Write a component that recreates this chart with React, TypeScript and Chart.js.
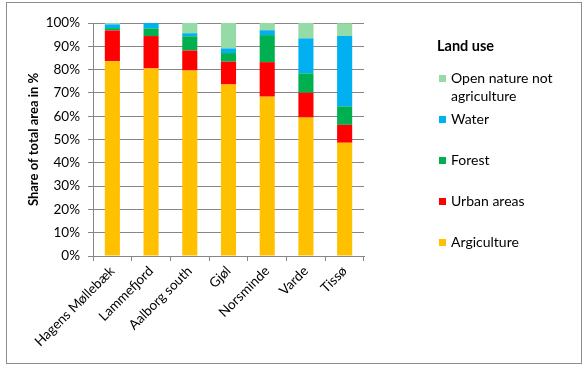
import React, { useEffect, useRef } from "react";
import { Chart, registerables } from "chart.js";

Chart.register(...registerables);

const categories = ["Hagens Møllebæk", "Lammefjord", "Aalborg south", "Gjøl", "Norsminde", "Varde", "Tissø"];
const agriculture = [83.6, 80.5, 79.6, 73.6, 68.4, 59.4, 48.6];
const urban = [13.2, 13.9, 8.6, 9.8, 14.8, 10.7, 7.7];
const forest = [1.0, 3.3, 6.1, 3.7, 11.6, 8.3, 7.9];
const water = [1.6, 2.3, 1.3, 2.0, 2.1, 15.0, 30.2];
const openNature = [0.6, 0, 4.4, 10.9, 3.1, 6.6, 5.5];
const yTickValues = [0, 10, 20, 30, 40, 50, 60, 70, 80, 90, 100];
const seriesLabels = ["Argiculture", "Urban areas", "Forest", "Water", "Open nature not agriculture"];
const legendTitle = "Land use";
const yTitle = "Share of total area in %";

const FONT = "Lato, 'Liberation Sans', sans-serif";

const legendPlugin = {
  id: "customLegend",
  afterDraw(chart: any) {
    const ctx = chart.ctx;
    ctx.save();
    // outer frame
    ctx.strokeStyle = "#8c8c8c";
    ctx.lineWidth = 1;
    ctx.strokeRect(6.5, 2.5, 575, 361);
    // title
    ctx.fillStyle = "#000";
    ctx.textBaseline = "middle";
    ctx.textAlign = "left";
    ctx.font = `bold 14.5px ${FONT}`;
    ctx.fillText(legendTitle, 437, 46);
    ctx.font = `14px ${FONT}`;
    const ds = chart.data.datasets.slice().reverse();
    let y = 78;
    const maxW = 122;
    ds.forEach((d: any) => {
      ctx.fillStyle = d.backgroundColor;
      ctx.fillRect(439, Math.round(y) - 3, 7, 7);
      ctx.fillStyle = "#000";
      const words = String(d.label).split(" ");
      const lines: string[] = [];
      let cur = "";
      words.forEach((w) => {
        const t = cur ? cur + " " + w : w;
        if (ctx.measureText(t).width > maxW && cur) {
          lines.push(cur);
          cur = w;
        } else cur = t;
      });
      if (cur) lines.push(cur);
      lines.forEach((ln, i) => ctx.fillText(ln, 451, y + i * 18.3));
      y += 41;
    });
    ctx.restore();
  },
};

export default function App() {
  const ref = useRef<HTMLCanvasElement>(null);
  useEffect(() => {
    if (!ref.current) return;
    const colors = ["#FFC000", "#FF0000", "#00B050", "#00B0F0", "#94DBA6"];
    const values = [agriculture, urban, forest, water, openNature];
    const chart = new Chart(ref.current, {
      type: "bar",
      data: {
        labels: categories,
        datasets: values.map((v, i) => ({
          label: seriesLabels[i],
          data: v,
          backgroundColor: colors[i],
          borderWidth: 0,
          barPercentage: 0.39,
          categoryPercentage: 1,
        })),
      },
      options: {
        responsive: false,
        animation: false,
        layout: { padding: { left: 6, top: 23, right: 224, bottom: 0 } },
        plugins: { legend: { display: false }, tooltip: { enabled: false } },
        scales: {
          x: {
            stacked: true,
            grid: { drawOnChartArea: false, drawTicks: true, tickLength: 5, color: "#868686", offset: true },
            border: { display: true, color: "#868686" },
            ticks: { color: "#000", font: { family: FONT, size: 13.5 }, minRotation: 45, maxRotation: 45, padding: 2 },
            afterFit: (s: any) => { s.height = 369 - 256; },
          },
          y: {
            stacked: true,
            min: 0,
            max: 100,
            afterBuildTicks: (s: any) => { s.ticks = yTickValues.map((v) => ({ value: v })); },
            grid: { color: "#868686", tickLength: 5 },
            border: { display: true, color: "#868686" },
            ticks: { color: "#000", font: { family: FONT, size: 13.5 }, padding: 8, callback: (v: any) => v + "%" },
            title: { display: true, text: yTitle, color: "#000", font: { family: FONT, size: 13, weight: "bold" }, padding: { top: 20, bottom: 0 } },
            afterFit: (s: any) => { s.width = 93 - 6; },
          },
        },
      },
      plugins: [legendPlugin],
    });
    return () => chart.destroy();
  }, []);
  return (
    <div style={{ position: "absolute", left: 0, top: 0, width: 588, height: 369, background: "#fff" }}>
      <canvas ref={ref} width={588} height={369} style={{ display: "block" }} />
    </div>
  );
}
